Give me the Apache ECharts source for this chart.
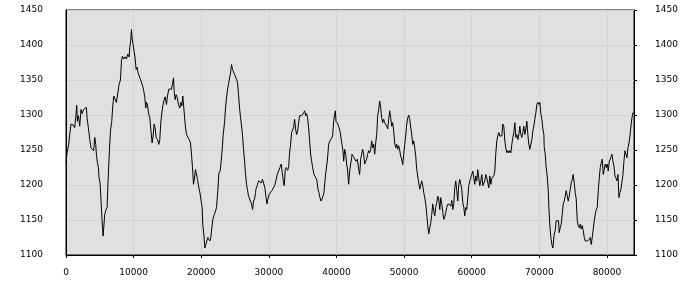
<!DOCTYPE html>
<html>
<head>
<meta charset="utf-8">
<script src="https://cdn.jsdelivr.net/npm/echarts@6/dist/echarts.min.js"></script>
<style>html,body{margin:0;padding:0;background:#fff}#c{width:700px;height:300px}</style>
</head>
<body>
<div id="c"></div>
<script>
const xRange = [0, 84000];
const xStep = 10000;
const yRange = [1100, 1450];
const yStep = 50;

const xs = [0,153,400,548,745,1041,1288,1436,1584,1683,1831,2028,2226,2374,2620,2867,3015,3114,3311,3509,3706,3903,4101,4249,4397,4496,4644,4792,4890,5038,5186,5334,5482,5581,5729,5926,6075,6223,6420,6568,6765,6914,7062,7259,7456,7654,7851,8049,8197,8345,8542,8739,8937,9134,9331,9430,9578,9677,9776,9924,10072,10220,10368,10516,10664,10861,11009,11207,11355,11503,11651,11799,11898,12046,12194,12391,12539,12736,12884,13032,13180,13328,13526,13723,
13871,14019,14266,14463,14661,14858,15006,15203,15401,15598,15746,15894,15993,16141,16289,16437,16635,16832,16980,17128,17276,17424,17622,17819,18016,18214,18411,18559,18707,18855,19003,19151,19300,19448,19645,19843,19990,20138,20237,20385,20533,20681,20829,20977,21125,21273,21421,21570,21718,21866,22063,22261,22458,22606,22803,22951,23099,23248,23445,23593,23741,23889,24037,24185,24333,24481,24629,24777,24925,25073,25222,25370,25518,25666,25814,25962,26110,26258,26406,26554,26702,26851,26999,27147,27295,27442,27591,27738,27887,28035,
28083,28280,28478,28675,28873,29070,29267,29415,29564,29712,29860,30057,30254,30452,30649,30847,31044,31241,31439,31636,31834,31982,32130,32278,32426,32574,32771,32919,33067,33215,33363,33512,33660,33808,33956,34104,34252,34400,34548,34696,34844,34992,35140,35288,35436,35585,35733,35881,36029,36177,36325,36473,36670,36818,36966,37114,37262,37410,37558,37706,37854,38002,38150,38298,38447,38644,38841,39039,39236,39434,39582,39730,39828,39927,40075,40223,40371,40519,40667,40815,40963,41062,41210,41358,41506,41654,41802,41950,42098,42246,
42295,42492,42690,42887,43085,43282,43430,43578,43726,43874,44022,44170,44318,44466,44614,44763,44911,45059,45207,45355,45503,45651,45799,45947,46095,46243,46391,46539,46687,46835,46983,47131,47279,47427,47575,47724,47872,48020,48168,48316,48464,48612,48760,48908,49056,49204,49352,49500,49648,49796,49944,50092,50240,50388,50536,50685,50833,50981,51129,51277,51425,51573,51721,51869,52017,52165,52313,52461,52609,52757,52905,53053,53201,53349,53497,53646,53794,53942,54090,54238,54386,54534,54682,54830,54978,55126,55274,55422,55570,55718,55866,56014,56162,56310,56458,
56507,56704,56902,57050,57198,57346,57494,57642,57790,57938,58086,58234,58382,58530,58678,58826,58975,59123,59271,59419,59567,59715,59863,60011,60159,60307,60455,60603,60751,60899,61047,61195,61343,61491,61639,61787,61936,62084,62232,62380,62528,62676,62824,62972,63120,63268,63416,63564,63712,63860,64008,64156,64304,64452,64600,64748,64897,65045,65193,65341,65489,65637,65785,65933,66081,66229,66377,66525,66673,66821,66969,67117,67265,67413,67561,67709,67858,68006,68154,68302,68450,68598,68746,68894,69042,69190,69338,69486,69634,69782,69930,70078,70226,70374,70522,70670,
70719,70867,71015,71163,71311,71410,71558,71706,71854,72002,72101,72200,72348,72496,72693,72841,72940,73088,73236,73384,73532,73680,73828,73976,74124,74272,74420,74568,74716,74864,75012,75161,75309,75457,75605,75753,75901,76049,76197,76345,76493,76641,76789,76937,77085,77233,77381,77529,77677,77825,77973,78121,78269,78417,78566,78714,78862,79010,79158,79306,79454,79602,79750,79898,80046,80194,80342,80490,80638,80737,80885,81033,81181,81329,81477,81625,81773,81921,82069,82217,82365,82513,82661,82809,82957,83105,83253,83401,83549,83697,83845,84000];

const ys = [1232,1246,1258,1272,1287,1286,1282,1296,1314,1291,1299,1284,1308,1302,1308,1310,1311,1296,1282,1265,1253,1251,1249,1268,1258,1244,1232,1225,1210,1203,1177,1149,1127,1139,1158,1165,1168,1206,1249,1277,1291,1313,1327,1327,1318,1318,1344,1350,1377,1384,1380,1383,1380,1387,1383,1396,1406,1422,1410,1401,1391,1382,1365,1368,1360,1358,1351,1351,1341,1334,1325,1310,1318,1315,1303,1296,1280,1260,1270,1287,1282,1268,1265,1258,
1265,1289,1310,1320,1326,1315,1327,1337,1339,1337,1344,1353,1334,1322,1329,1325,1315,1310,1318,1313,1327,1310,1287,1272,1270,1265,1260,1244,1225,1201,1210,1222,1220,1208,1196,1187,1177,1168,1142,1130,1110,1115,1120,1125,1127,1120,1125,1139,1151,1156,1161,1168,1192,1217,1220,1234,1251,1272,1289,1310,1325,1337,1344,1353,1360,1372,1365,1363,1358,1356,1351,1346,1329,1310,1296,1284,1270,1251,1234,1215,1201,1192,1184,1180,1182,1173,1165,1177,1180,1189,
1194,1199,1206,1208,1203,1208,1210,1196,1184,1173,1180,1187,1189,1192,1194,1199,1206,1215,1220,1225,1230,1218,1206,1199,1222,1225,1221,1225,1246,1258,1275,1277,1282,1294,1280,1272,1277,1289,1299,1301,1299,1301,1303,1306,1299,1302,1296,1282,1263,1244,1234,1225,1215,1213,1210,1206,1194,1189,1182,1177,1180,1184,1189,1206,1220,1234,1258,1263,1265,1270,1291,1301,1306,1291,1289,1287,1282,1277,1275,1258,1249,1234,1251,1244,1230,1220,1201,1220,1230,1239,
1244,1241,1237,1234,1237,1222,1215,1237,1244,1251,1244,1230,1234,1237,1244,1249,1246,1251,1263,1253,1258,1244,1260,1272,1299,1308,1320,1310,1296,1289,1294,1289,1291,1284,1280,1294,1306,1296,1284,1289,1277,1260,1253,1258,1251,1256,1249,1241,1237,1229,1244,1258,1270,1287,1296,1300,1294,1282,1272,1258,1263,1253,1241,1222,1220,1203,1194,1196,1206,1199,1189,1182,1173,1158,1142,1130,1139,1146,1158,1173,1163,1156,1168,1175,1184,1180,1165,1182,1173,1161,1151,1154,1161,1168,1170,
1173,1175,1170,1178,1165,1173,1196,1206,1192,1177,1201,1208,1210,1194,1175,1168,1156,1168,1165,1182,1199,1206,1208,1215,1220,1210,1201,1213,1206,1222,1210,1199,1206,1215,1199,1201,1206,1215,1210,1203,1196,1213,1201,1210,1208,1213,1220,1246,1263,1270,1275,1270,1272,1270,1287,1284,1263,1253,1246,1249,1246,1249,1246,1258,1268,1275,1289,1268,1272,1265,1272,1284,1272,1268,1275,1284,1272,1280,1291,1272,1258,1251,1249,1265,1277,1284,1294,1303,1315,1318,1315,1318,1301,1294,1280,1272,
1255,1244,1225,1213,1194,1168,1142,1125,1115,1110,1108,1130,1135,1149,1151,1149,1132,1139,1144,1158,1173,1177,1184,1192,1194,1177,1184,1194,1203,1208,1215,1203,1189,1180,1149,1142,1139,1144,1137,1142,1135,1125,1120,1118,1120,1118,1122,1125,1115,1125,1137,1149,1158,1165,1168,1192,1210,1225,1232,1237,1215,1222,1230,1225,1230,1220,1234,1237,1241,1244,1234,1227,1213,1210,1206,1215,1182,1189,1194,1192,1215,1234,1249,1244,1239,1253,1260,1270,1284,1296,1303,1303];

const data = xs.map((x, i) => [x, ys[i]]);
const plain = v => String(v);
const font = { color: '#000', fontFamily: 'DejaVu Sans', fontSize: 9, formatter: plain };
const gridLine = { show: true, lineStyle: { color: '#d2d2d2', width: 1 } };
const blackLine = { show: true, lineStyle: { color: '#000', width: 1 } };

const yCommon = {
  type: 'value', min: yRange[0], max: yRange[1], interval: yStep,
  axisLine: blackLine, splitLine: gridLine
};

const chart = echarts.init(document.getElementById('c'), null, { renderer: 'canvas' });
chart.setOption({
  animation: false,
  backgroundColor: '#fff',
  grid: { left: 66, right: 66, top: 10, bottom: 45, show: true, backgroundColor: '#e0e0e0', borderColor: '#000', borderWidth: 1 },
  xAxis: {
    type: 'value', min: xRange[0], max: xRange[1], interval: xStep,
    axisLine: blackLine,
    axisTick: { show: true, length: 3, lineStyle: { color: '#000' } },
    axisLabel: Object.assign({ margin: 13, showMaxLabel: false }, font),
    splitLine: gridLine
  },
  yAxis: [
    Object.assign({}, yCommon, { position: 'left', axisTick: { show: false },
      axisLabel: Object.assign({ margin: 23 }, font) }),
    Object.assign({}, yCommon, { position: 'right', axisTick: { show: true, length: 3, lineStyle: { color: '#000' } },
      axisLabel: Object.assign({ margin: 21 }, font) })
  ],
  series: [{
    type: 'line', data: data, xAxisIndex: 0, yAxisIndex: 0,
    showSymbol: false, symbol: 'none',
    lineStyle: { color: '#000', width: 1 }
  }]
});
</script>
</body>
</html>
